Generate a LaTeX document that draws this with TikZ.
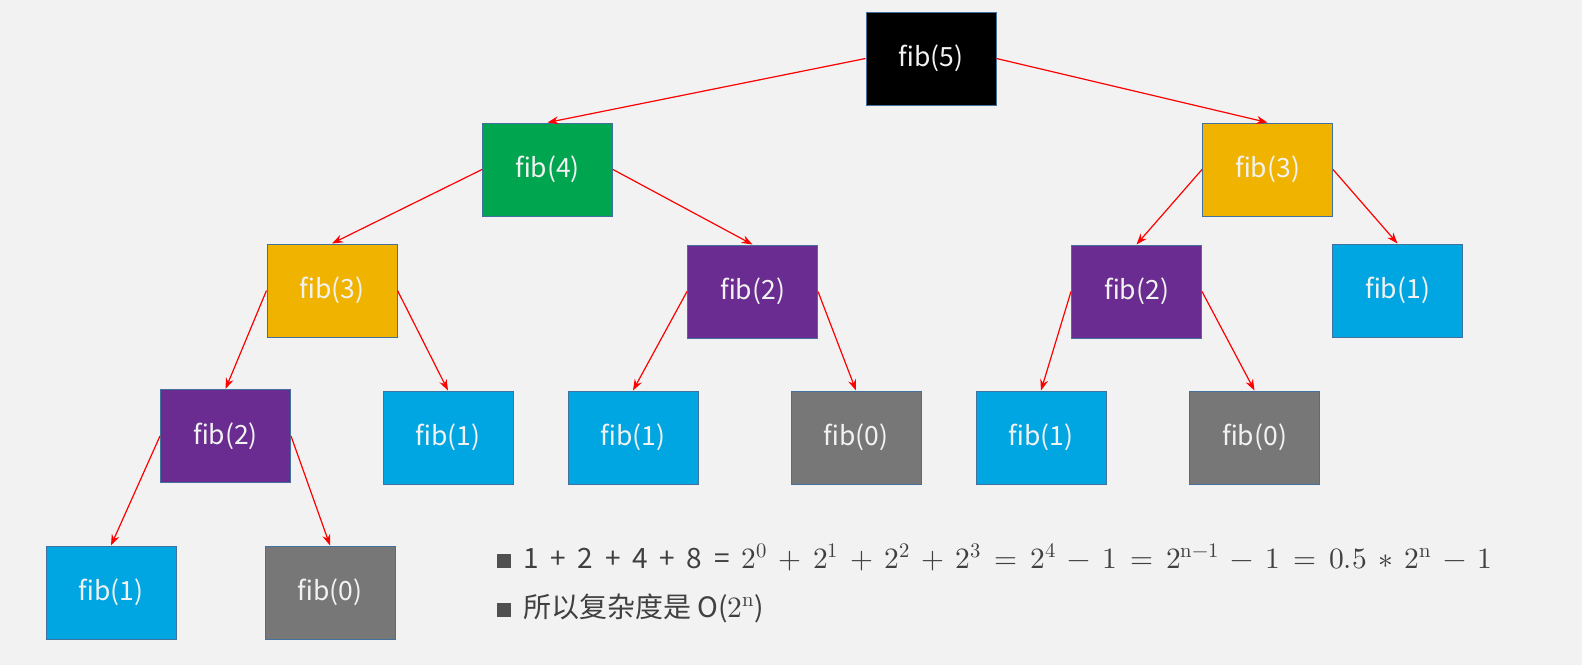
\documentclass[tikz,border=0pt]{standalone}
\usepackage{amsmath}
\usepackage{fontspec}
\usepackage{unicode-math}
\setmainfont{Noto Sans CJK SC}
\setmathfont{Latin Modern Math}
\usepackage{xcolor}
\usetikzlibrary{arrows.meta}
\definecolor{bgcol}{HTML}{F2F2F2}
\definecolor{edgeblue}{HTML}{41719C}
\definecolor{boxtext}{HTML}{F2F2F2}
\definecolor{fibgreen}{HTML}{00A54F}
\definecolor{fiborange}{HTML}{F0B400}
\definecolor{fibpurple}{HTML}{6A2C91}
\definecolor{fibblue}{HTML}{00A6E1}
\definecolor{fibgrey}{HTML}{777777}
\definecolor{notegrey}{HTML}{404040}
\definecolor{bulletgrey}{HTML}{505050}
\newcommand{\opgap}{\hspace{0.42em}}
\newcommand{\notebullet}{\textcolor{bulletgrey}{\rule{14pt}{14pt}}\hspace{12pt}}
\newcommand{\notemath}[1]{{\fontsize{29.5}{33}\selectfont
	\medmuskip=7mu \thickmuskip=8mu $#1$}}

\begin{document}
\begin{tikzpicture}[x=1pt, y=-1pt, >={Stealth[length=11pt, width=8pt]},
		fib/.style={draw=edgeblue, line width=1pt, minimum width=130pt,
			minimum height=93pt, inner sep=0pt, text=boxtext,
			font=\fontsize{26.5}{30}\selectfont},
		link/.style={->, red, line width=1.2pt},
		note/.style={anchor=base west, inner sep=0pt, text=notegrey,
			font=\fontsize{28}{32}\selectfont}]
		\fill[bgcol] (0,0) rectangle (1582,665);
		\useasboundingbox (0,0) rectangle (1582,665);

		% level 0 and 1
		\node[fib, fill=black] (five) at (931,58.5) {fib(5)};
		\node[fib, fill=fibgreen] (four) at (547.5,169.5) {fib(4)};
		\node[fib, fill=fiborange] (threeR) at (1267.5,169.5) {fib(3)};

		% level 2
		\node[fib, fill=fiborange] (threeL) at (332,290.5) {fib(3)};
		\node[fib, fill=fibpurple] (twoM) at (752.5,291.5) {fib(2)};
		\node[fib, fill=fibpurple] (twoR) at (1136.5,291.5) {fib(2)};
		\node[fib, fill=fibblue] (oneRR) at (1397.5,290.5) {fib(1)};

		% level 3
		\node[fib, fill=fibpurple] (twoL) at (225.5,436) {fib(2)};
		\node[fib, fill=fibblue] (oneA) at (448,437.5) {fib(1)};
		\node[fib, fill=fibblue] (oneB) at (633,437.5) {fib(1)};
		\node[fib, fill=fibgrey] (zeroB) at (856,437.5) {fib(0)};
		\node[fib, fill=fibblue] (oneC) at (1041,437.5) {fib(1)};
		\node[fib, fill=fibgrey] (zeroC) at (1254.5,437.5) {fib(0)};

		% level 4
		\node[fib, fill=fibblue] (oneL) at (111,592.5) {fib(1)};
		\node[fib, fill=fibgrey] (zeroL) at (330,592.5) {fib(0)};

		\draw[link] (five.west) -- (four.north);
		\draw[link] (five.east) -- (threeR.north);
		\draw[link] (four.west) -- (threeL.north);
		\draw[link] (four.east) -- (twoM.north);
		\draw[link] (threeR.west) -- (twoR.north);
		\draw[link] (threeR.east) -- (oneRR.north);
		\draw[link] (threeL.west) -- (twoL.north);
		\draw[link] (threeL.east) -- (oneA.north);
		\draw[link] (twoM.west) -- (oneB.north);
		\draw[link] (twoM.east) -- (zeroB.north);
		\draw[link] (twoR.west) -- (oneC.north);
		\draw[link] (twoR.east) -- (zeroC.north);
		\draw[link] (twoL.west) -- (oneL.north);
		\draw[link] (twoL.east) -- (zeroL.north);

		% the sum below the tree
		\node[note] (sum) at (497,568) {\notebullet
			1\opgap+\opgap2\opgap+\opgap4\opgap+\opgap8\opgap=\opgap
			\notemath{2^{0} + 2^{1} + 2^{2} + 2^{3} = 2^{4} - 1 = 2^{\symup{n}-1} - 1 = 0.5 \ast 2^{\symup{n}} - 1}};
		\node[note] (order) at (497,617) {\notebullet 所以复杂度是 O(\notemath{2^{\symup{n}}})};
	\end{tikzpicture}
\end{document}
